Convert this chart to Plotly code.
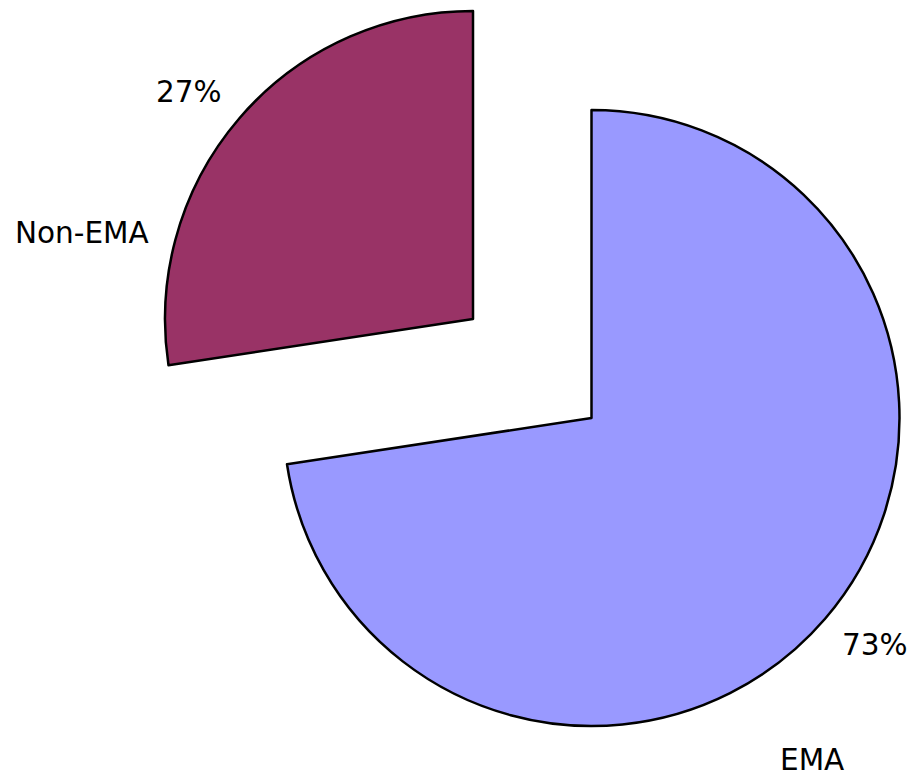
import plotly.graph_objects as go

# data
labels = ["EMA", "Non-EMA"]
values = [72.6, 27.4]
colors = ["#9999FF", "#993366"]

# page has an 8px body margin, so the figure is 8px smaller each way
W, H = 909, 770
OFF = 8
R = 308

# centre of each exploded slice, in window pixels
centres = [(591.5, 418), (473, 319)]


def px_domain(cx, cy, r):
    cx -= OFF
    cy -= OFF
    return dict(x=[(cx - r) / W, (cx + r) / W],
                y=[(H - cy - r) / H, (H - cy + r) / H])


fig = go.Figure()
for i, (cx, cy) in enumerate(centres):
    fill = [c if j == i else "rgba(0,0,0,0)" for j, c in enumerate(colors)]
    widths = [2.5 if j == i else 0 for j in range(len(labels))]
    fig.add_trace(go.Pie(
        labels=labels, values=values, sort=False, direction="clockwise",
        rotation=0, textinfo="none", hoverinfo="label+percent",
        marker=dict(colors=fill, line=dict(color="black", width=widths)),
        domain=px_domain(cx, cy, R), showlegend=False,
    ))

total = sum(values)
pct = [f"{round(v * 100 / total)}%" for v in values]
font = dict(family="DejaVu Sans", size=29.5, color="black")

# label positions, window pixels
pct_pos = [(875, 645), (189, 92)]
name_pos = [(812, 760), (82, 233)]


def paper(x, y):
    return (x - OFF) / W, 1 - (y - OFF) / H


for i in range(len(labels)):
    for (x, y), txt in ((pct_pos[i], pct[i]), (name_pos[i], labels[i])):
        px_, py_ = paper(x, y)
        fig.add_annotation(x=px_, y=py_, xref="paper", yref="paper",
                           text=txt, showarrow=False, font=font,
                           xanchor="center", yanchor="middle")

fig.update_layout(width=W, height=H, margin=dict(l=0, r=0, t=0, b=0),
                  paper_bgcolor="white", plot_bgcolor="white")
fig.write_html("out.html")
